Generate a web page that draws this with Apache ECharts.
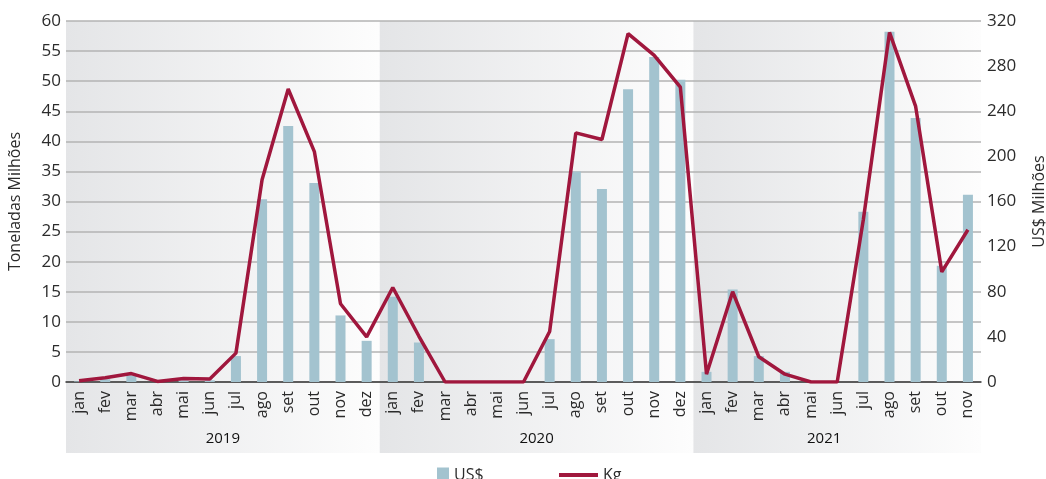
<!DOCTYPE html>
<html>
<head>
<meta charset="utf-8">
<script src="https://cdn.jsdelivr.net/npm/echarts@6/dist/echarts.min.js"></script>
<style>
  html, body { margin: 0; padding: 0; background: #fff; }
  #main { width: 1046px; height: 479px; }
</style>
</head>
<body>
<div id="main"></div>
<script>
    // meses / anos
    const monthNames = ['jan', 'fev', 'mar', 'abr', 'mai', 'jun', 'jul', 'ago', 'set', 'out', 'nov', 'dez']
    const years = ['2019', '2020', '2021']
    const months = [].concat(monthNames, monthNames, monthNames.slice(0, 11))

    // US$ Milhões (eixo direito)
    const usd = [
        0.5, 2.5, 6, 0, 1.5, 1.5, 23, 162, 227, 176.5, 59, 36.5,
        75.5, 35, 0, 0, 0, 0, 38, 186.5, 171, 259.5, 288, 268,
        9, 82, 23, 9, 0, 0, 151, 310.5, 234, 103, 166
    ]
    // Toneladas Milhões (eixo esquerdo)
    const kg = [
        0.2, 0.7, 1.4, 0.1, 0.6, 0.5, 4.8, 33.6, 48.7, 38.3, 13.0, 7.5,
        15.7, 7.6, 0, 0, 0, 0, 8.4, 41.4, 40.3, 57.9, 54.3, 49.0,
        1.3, 15.0, 4.2, 1.3, 0, 0, 27, 58.1, 45.8, 18.3, 25.3
    ]
    const leftTicks = [0, 60, 5]
    const rightTicks = [0, 320, 40]
    // posição do rótulo do ano (índice do mês)
    const yearPos = [5.5, 17.5, 28.5]

    const font = '"Open Sans", sans-serif'
    const textColor = '#2b2b2b'

    let myChart = echarts.init(document.getElementById('main'))
    let option = {
        animation: false,
        grid: {left: 66, right: 65, top: 21, bottom: 97, containLabel: false, outerBoundsMode: 'none'},
        legend: [
            {
                left: 432, top: 462, itemWidth: 12, itemHeight: 15, itemGap: 5,
                icon: 'rect',
                textStyle: {fontFamily: font, fontSize: 16, color: textColor},
                data: ['US$']
            },
            {
                left: 554, top: 462, itemWidth: 39, itemHeight: 4,
                icon: 'rect',
                textStyle: {fontFamily: font, fontSize: 16, color: textColor},
                data: ['Kg']
            }
        ],
        xAxis: [
            {
                type: 'category',
                data: months,
                axisLine: {lineStyle: {color: '#3a3a3a', width: 1.5}},
                axisTick: {show: false},
                axisLabel: {
                    rotate: 90, interval: 0, margin: 9,
                    fontFamily: font, fontSize: 16, color: textColor
                }
            },
            {
                type: 'value',
                position: 'bottom',
                min: -0.5, max: 34.5, interval: 0.5,
                axisLine: {show: false},
                axisTick: {show: false},
                splitLine: {show: false},
                axisLabel: {
                    margin: 49,
                    fontFamily: font, fontSize: 15, color: '#111',
                    formatter: function (v) {
                        for (let i = 0; i < yearPos.length; i++) {
                            if (Math.abs(v - yearPos[i]) < 1e-6) return years[i]
                        }
                        return ''
                    }
                }
            }
        ],
        yAxis: [
            {
                type: 'value',
                min: leftTicks[0], max: leftTicks[1], interval: leftTicks[2],
                name: 'Toneladas Milhões',
                nameLocation: 'middle', nameGap: 43,
                nameTextStyle: {fontFamily: font, fontSize: 16, color: textColor},
                axisLine: {show: false},
                axisTick: {show: false},
                axisLabel: {margin: 5, fontFamily: font, fontSize: 17, color: textColor},
                splitLine: {lineStyle: {color: '#b3b3b3', width: 1.6}}
            },
            {
                type: 'value',
                min: rightTicks[0], max: rightTicks[1], interval: rightTicks[2],
                name: 'US$ Milhões',
                nameLocation: 'middle', nameGap: 50,
                nameTextStyle: {fontFamily: font, fontSize: 16, color: textColor},
                axisLine: {show: false},
                axisTick: {show: false},
                axisLabel: {margin: 6, fontFamily: font, fontSize: 17, color: textColor},
                splitLine: {show: false}
            }
        ],
        series: [
            {
                name: 'US$',
                type: 'bar',
                xAxisIndex: 0,
                yAxisIndex: 1,
                barWidth: 10,
                itemStyle: {color: '#a3c3cf'},
                data: usd
            },
            {
                name: 'Kg',
                type: 'line',
                xAxisIndex: 0,
                yAxisIndex: 0,
                showSymbol: false,
                symbol: 'none',
                lineStyle: {color: '#a0173d', width: 3.5},
                itemStyle: {color: '#a0173d'},
                data: kg
            }
        ]
    }
    myChart.setOption(option)

    // faixas de fundo por ano (gradiente cinza -> branco)
    function drawBands() {
        const p0 = myChart.convertToPixel({xAxisIndex: 0}, 0)
        const p1 = myChart.convertToPixel({xAxisIndex: 0}, 1)
        const step = p1 - p0
        const top = myChart.convertToPixel({yAxisIndex: 0}, leftTicks[1])
        const bottom = 453
        const ranges = [[0, 11], [12, 23], [24, 34]]
        const elements = ranges.map(function (r) {
            const x0 = myChart.convertToPixel({xAxisIndex: 0}, r[0]) - step / 2
            const x1 = myChart.convertToPixel({xAxisIndex: 0}, r[1]) + step / 2
            return {
                type: 'rect',
                silent: true,
                z: -100,
                shape: {x: x0, y: top, width: x1 - x0, height: bottom - top},
                style: {
                    fill: new echarts.graphic.LinearGradient(0, 0, 1, 0, [
                        {offset: 0, color: '#e4e5e7'},
                        {offset: 1, color: '#fdfdfd'}
                    ])
                }
            }
        })
        myChart.setOption({graphic: {elements: elements}})
    }
    drawBands()
</script>
</body>
</html>
